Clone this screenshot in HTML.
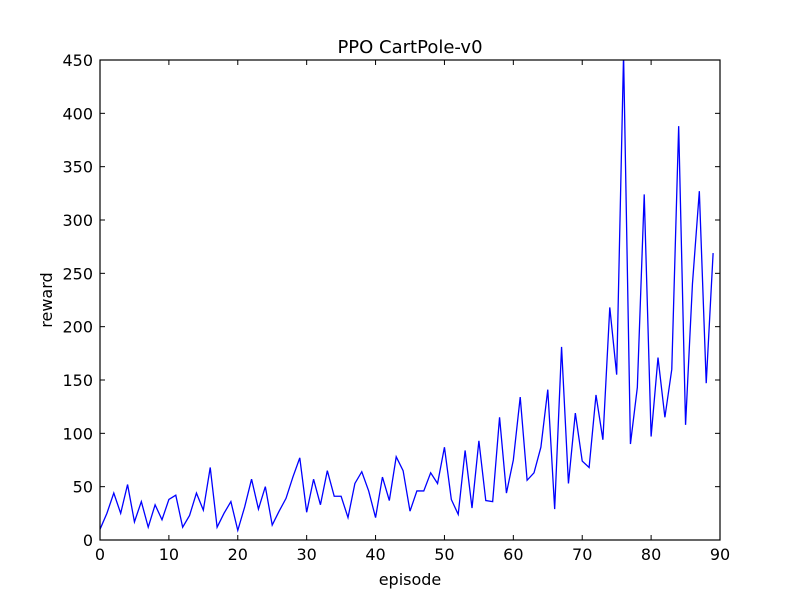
<!DOCTYPE html>
<html><head><meta charset="utf-8"><style>
body{margin:0;background:#fff}
svg{font-family:"DejaVu Sans","Liberation Sans",sans-serif}
</style></head><body>
<svg id="chart" width="800" height="600" xmlns="http://www.w3.org/2000/svg">
<rect width="800" height="600" fill="#fff"/>
<text x="410" y="53" font-size="18" text-anchor="middle">PPO CartPole-v0</text>
<text x="410" y="585" font-size="16" text-anchor="middle">episode</text>
<text x="52" y="300" font-size="16" text-anchor="middle" transform="rotate(-90 52 300)">reward</text>
<defs><clipPath id="pc"><rect x="100" y="60" width="620" height="480"/></clipPath></defs>
<g id="ticks"></g>
<path id="line" fill="none" stroke="#0000ff" stroke-width="1.3" clip-path="url(#pc)"/>
<rect x="100" y="60" width="620" height="480" fill="none" stroke="#000" stroke-width="1.2"/>
</svg>
<script>
const rewards=[10,25,44,25,52,17,36,12,33,19,38,42,12,23,44,28,68,12,25,36,9,31,57,29,50,14,27,39,59,77,26,57,33,65,41,41,21,53,64,46,21,59,37,78,65,27,46,46,63,53,87,38,24,84,30,93,37,36,115,44,75,134,56,63,87,141,29,181,53,119,74,68,136,94,218,155,455,90,143,324,97,171,115,160,388,108,240,327,147,269];
const xTicks=[0,10,20,30,40,50,60,70,80,90];
const yTicks=[0,50,100,150,200,250,300,350,400,450];
const X=v=>100+v/90*620, Y=v=>540-v/450*480;
const ns="http://www.w3.org/2000/svg";
const g=document.getElementById('ticks');
function mk(t,a){const e=document.createElementNS(ns,t);for(const k in a)e.setAttribute(k,a[k]);g.appendChild(e);return e;}
xTicks.forEach(v=>{
 const x=X(v);
 const t1=mk('line',{x1:x,x2:x,y1:540,y2:535,stroke:'#000'});
 
 
 const t2=mk('line',{x1:x,x2:x,y1:60,y2:65,stroke:'#000'});
 
 
 const l=mk('text',{x:x,y:560,'font-size':16,'text-anchor':'middle'});l.textContent=v;
 
 
});
yTicks.forEach(v=>{
 const y=Y(v);
 const t1=mk('line',{x1:100,x2:105,y1:y,y2:y,stroke:'#000'});
 
 
 const t2=mk('line',{x1:715,x2:720,y1:y,y2:y,stroke:'#000'});
 
 
 const l=mk('text',{x:93,y:y+6,'font-size':16,'text-anchor':'end'});l.textContent=v;
 
 
});
document.getElementById('line').setAttribute('d',rewards.map((r,i)=>(i?'L':'M')+X(i).toFixed(2)+' '+Y(r).toFixed(2)).join(' '));
</script>
</body></html>
